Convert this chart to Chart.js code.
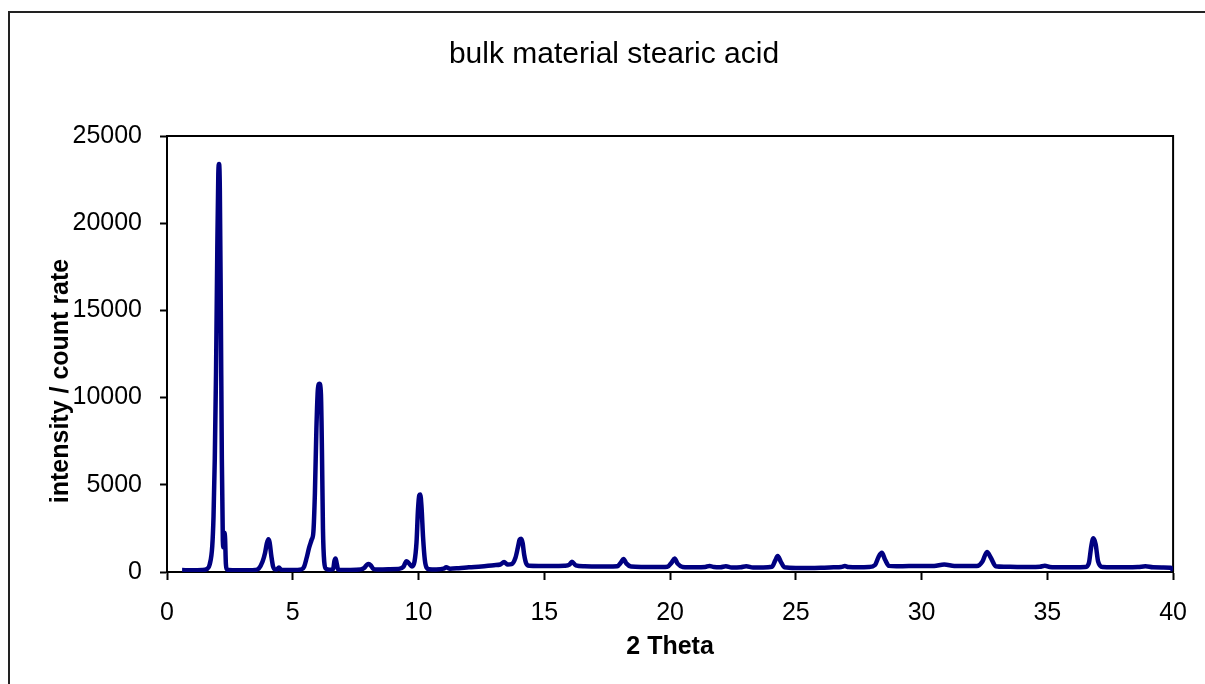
<!DOCTYPE html>
<html>
<head>
<meta charset="utf-8">
<title>bulk material stearic acid</title>
<script src="https://cdn.jsdelivr.net/npm/chart.js@4/dist/chart.umd.min.js"></script>
<style>
  html, body { margin: 0; padding: 0; background: #fff; }
  #wrap { width: 1205px; height: 684px; }
</style>
</head>
<body>
<div id="wrap"><canvas id="xrd-chart" width="1205" height="684"></canvas></div>
<script>
// Diffractogram (2 Theta in degrees, intensity in counts)
const theta = [
  0.6, 1.0, 1.4, 1.6, 1.7, 1.8, 1.85, 1.9, 1.95, 2.0, 2.04, 2.07, 2.1, 2.14, 2.18, 2.22, 2.25, 2.28, 2.31, 2.34, 2.38, 2.45, 2.6,
  3.0, 3.5, 3.65, 3.8, 3.9, 3.97, 4.03, 4.08, 4.15, 4.22, 4.3, 4.38, 4.45, 4.52, 4.6,
  5.0, 5.35, 5.45, 5.55, 5.65, 5.75, 5.82, 5.88, 5.94, 6.0, 6.06, 6.12, 6.16, 6.2, 6.25, 6.32, 6.45, 6.6, 6.66, 6.7, 6.74, 6.8, 6.9,
  7.3, 7.7, 7.85, 7.95, 8.02, 8.1, 8.2, 8.35, 8.8, 9.2, 9.4, 9.52, 9.62, 9.74, 9.84, 9.92, 9.98, 10.03, 10.07, 10.12, 10.18, 10.25, 10.32, 10.42, 10.7,
  11.0, 11.1, 11.25, 11.6, 12.0, 12.5, 13.0, 13.25, 13.4, 13.55, 13.7, 13.85, 13.95, 14.02, 14.08, 14.14, 14.2, 14.28, 14.4, 14.8,
  15.3, 15.8, 16.0, 16.1, 16.25, 16.6, 17.0, 17.5, 17.9, 18.05, 18.15, 18.27, 18.45, 18.9, 19.4, 19.9,
  20.05, 20.18, 20.3, 20.5, 21.0, 21.4, 21.57, 21.75, 22.0, 22.22, 22.45, 22.8, 23.03, 23.3, 23.7, 24.05, 24.18, 24.28, 24.4, 24.55,
  25.0, 25.5, 26.0, 26.5, 26.8, 26.95, 27.1, 27.5, 27.9, 28.15, 28.3, 28.42, 28.55, 28.7, 29.0, 29.5,
  30.0, 30.5, 30.9, 31.3, 31.8, 32.2, 32.42, 32.6, 32.76, 32.95, 33.3, 33.8, 34.3, 34.7, 34.9, 35.1,
  35.6, 36.1, 36.5, 36.65, 36.75, 36.83, 36.92, 37.02, 37.2, 37.6, 38.1, 38.6, 38.9, 39.2, 39.6, 39.9, 40.0
];
const counts = [
  110, 100, 110, 180, 450, 1500, 3200, 6500, 11500, 18500, 22800, 23400, 22000, 15000, 6500, 1800, 1400, 2250, 1900, 500, 170, 110, 100,
  100, 120, 200, 600, 1100, 1650, 1880, 1700, 900, 300, 150, 160, 260, 150, 110,
  110, 150, 300, 800, 1400, 1850, 2300, 4500, 8200, 10500, 10800, 10200, 7000, 2500, 600, 180, 130, 150, 650, 770, 550, 160, 120,
  120, 150, 250, 420, 460, 380, 180, 140, 160, 170, 300, 620, 500, 320, 600, 1700, 3600, 4400, 4450, 3700, 2000, 700, 250, 160, 150,
  190, 270, 190, 220, 270, 320, 390, 430, 570, 430, 450, 800, 1400, 1850, 1900, 1650, 1000, 500, 360, 350,
  340, 360, 420, 590, 380, 330, 320, 310, 330, 550, 750, 480, 310, 290, 280, 300,
  520, 770, 480, 290, 270, 290, 350, 280, 270, 330, 260, 270, 330, 260, 260, 300, 650, 920, 600, 270,
  230, 230, 240, 270, 290, 340, 280, 270, 280, 400, 900, 1100, 700, 350, 330, 340,
  340, 350, 430, 350, 340, 340, 600, 1150, 800, 330, 300, 290, 290, 300, 360, 290,
  270, 270, 280, 500, 1500, 1930, 1600, 600, 290, 270, 270, 280, 330, 270, 260, 240, 100
];

const titleText = 'bulk material stearic acid';
const xTitle = '2 Theta';
const yTitle = 'intensity / count rate';

const font = '"Liberation Sans", Arial, sans-serif';

// outer frame, plot box and rotated y title
const extras = {
  id: 'extras',
  beforeDraw(chart) {
    const ctx = chart.ctx;
    ctx.save();
    ctx.fillStyle = '#fff';
    ctx.fillRect(0, 0, chart.width, chart.height);
    ctx.strokeStyle = '#222';
    ctx.lineWidth = 2;
    ctx.strokeRect(9, 12, chart.width + 20, chart.height + 20);
    ctx.restore();
  },
  beforeDatasetsDraw(chart) {
    const { ctx, chartArea: a } = chart;
    ctx.save();
    ctx.strokeStyle = '#000';
    ctx.lineWidth = 2;
    ctx.beginPath();
    ctx.moveTo(a.left, a.top);
    ctx.lineTo(a.right, a.top);
    ctx.lineTo(a.right, a.bottom);
    ctx.stroke();
    ctx.restore();
  },
  afterDraw(chart) {
    const ctx = chart.ctx;
    ctx.save();
    ctx.translate(61, 381);
    ctx.rotate(-Math.PI / 2);
    ctx.font = 'bold 25px ' + font;
    ctx.fillStyle = '#000';
    ctx.textAlign = 'center';
    ctx.textBaseline = 'middle';
    ctx.fillText(yTitle, 0, 0);
    ctx.restore();
  }
};

const config = {
  type: 'scatter',
  data: {
    datasets: [{
      data: theta.map((t, i) => ({ x: t, y: counts[i] })),
      showLine: true,
      borderColor: '#000080',
      borderWidth: 4.5,
      pointRadius: 0,
      cubicInterpolationMode: 'monotone',
      fill: false
    }]
  },
  options: {
    responsive: false,
    animation: false,
    devicePixelRatio: 1,
    layout: { padding: { left: 54, right: 31, top: 0, bottom: 0 } },
    plugins: {
      legend: { display: false },
      tooltip: { enabled: false },
      title: {
        display: true,
        text: titleText,
        color: '#000',
        font: { family: font, size: 30, weight: 'normal', lineHeight: 1.2 },
        padding: { top: 37, bottom: 63 }
      }
    },
    scales: {
      x: {
        type: 'linear',
        min: 0,
        max: 40,
        afterFit(scale) { scale.height = 112; },
        ticks: {
          stepSize: 5,
          color: '#000',
          padding: 18,
          maxRotation: 0,
          font: { family: font, size: 25 },
          callback: (v) => String(v)
        },
        grid: {
          drawOnChartArea: false,
          tickLength: 8,
          tickColor: '#000',
          tickWidth: 2
        },
        border: { color: '#000', width: 2 },
        title: {
          display: true,
          text: xTitle,
          color: '#000',
          font: { family: font, size: 25, weight: 'bold', lineHeight: 1.2 },
          padding: { top: 0, bottom: 22 }
        }
      },
      y: {
        min: 0,
        max: 25000,
        afterFit(scale) { scale.width = 113; },
        ticks: {
          stepSize: 5000,
          color: '#000',
          padding: 18,
          font: { family: font, size: 25 },
          callback: (v) => String(v)
        },
        grid: {
          drawOnChartArea: false,
          tickLength: 7,
          tickColor: '#000',
          tickWidth: 2
        },
        border: { color: '#000', width: 2 }
      }
    }
  },
  plugins: [extras]
};

window.onload = function () {
  const ctx = document.getElementById('xrd-chart').getContext('2d');
  new Chart(ctx, config);
};
</script>
</body>
</html>
